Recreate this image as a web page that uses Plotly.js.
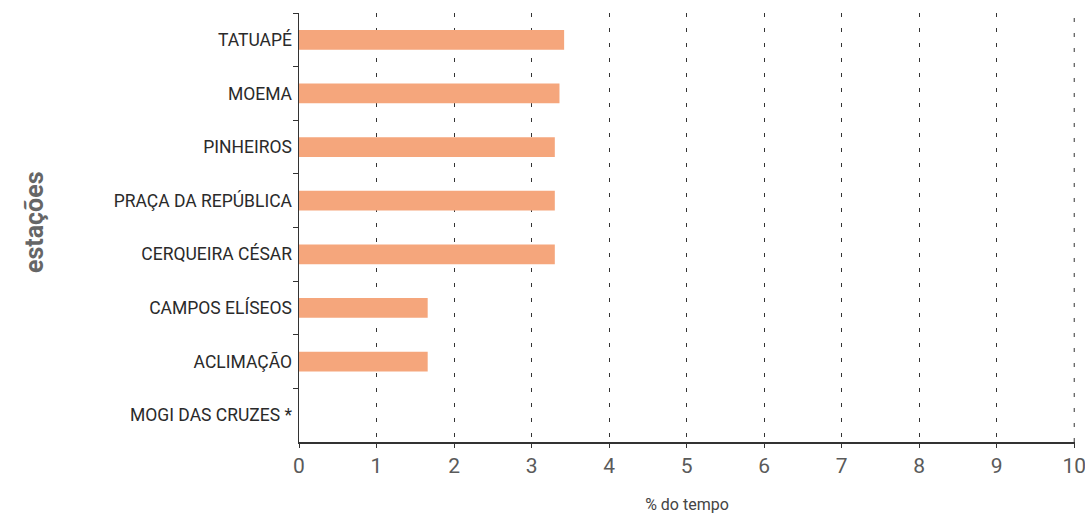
<!DOCTYPE html>
<html>
<head>
<meta charset="utf-8">
<script src="https://cdn.plot.ly/plotly-3.0.1.min.js"></script>
<style>html,body{margin:0;padding:0;background:#fff;}#chart{width:1085px;height:516px;}</style>
</head>
<body>
<div id="chart"></div>
<script>
const stations = ["TATUAPÉ", "MOEMA", "PINHEIROS", "PRAÇA DA REPÚBLICA", "CERQUEIRA CÉSAR", "CAMPOS ELÍSEOS", "ACLIMAÇÃO", "MOGI DAS CRUZES *"];
const percentTime = [3.42, 3.36, 3.3, 3.3, 3.3, 1.66, 1.66, 0];
const xTicks = [0, 1, 2, 3, 4, 5, 6, 7, 8, 9, 10];

const font = "Roboto, 'DejaVu Sans Condensed', sans-serif";
const gridDash = "4px,11px";
const xMax = xTicks[xTicks.length - 1];

Plotly.newPlot("chart", [{
  type: "bar",
  orientation: "h",
  y: stations,
  x: percentTime,
  width: 0.37,
  marker: {color: "#f5a67c"},
  hoverinfo: "x+y"
}], {
  width: 1085, height: 516,
  margin: {l: 299, r: 10, t: 13, b: 74},
  paper_bgcolor: "#fff", plot_bgcolor: "#fff",
  showlegend: false,
  xaxis: {
    range: [0, xMax + 0.01],
    tickvals: xTicks,
    ticktext: xTicks.map(String),
    showgrid: true,
    gridcolor: "#333",
    gridwidth: 1,
    griddash: gridDash,
    zeroline: false,
    showline: true,
    linecolor: "#333",
    linewidth: 1.5,
    ticks: "outside",
    ticklen: 4,
    tickcolor: "#333",
    ticklabeloverflow: "allow",
    tickfont: {family: font, size: 21, color: "#5a5a5a"},
    title: {text: "% do tempo", font: {family: font, size: 16, color: "#444"}, standoff: 22}
  },
  yaxis: {
    type: "category",
    autorange: "reversed",
    showgrid: false,
    zeroline: false,
    showline: true,
    linecolor: "#333",
    linewidth: 1.5,
    ticks: "outside",
    tickson: "boundaries",
    ticklen: 5,
    tickcolor: "#333",
    ticklabelstandoff: 2,
    tickfont: {family: font, size: 17.5, color: "#2a2a2a"}
  },
  shapes: [{
    type: "line", xref: "x", yref: "paper",
    x0: xMax, x1: xMax, y0: 0, y1: 1,
    line: {color: "#333", width: 1, dash: gridDash},
    layer: "below"
  }],
  annotations: [{
    text: "estações",
    xref: "paper", yref: "paper",
    x: -0.34, y: 0.513,
    xanchor: "center", yanchor: "middle",
    textangle: -90,
    showarrow: false,
    font: {family: font, size: 25, color: "#666", weight: "bold"}
  }]
}, {displayModeBar: false, staticPlot: true});
</script>
</body>
</html>
